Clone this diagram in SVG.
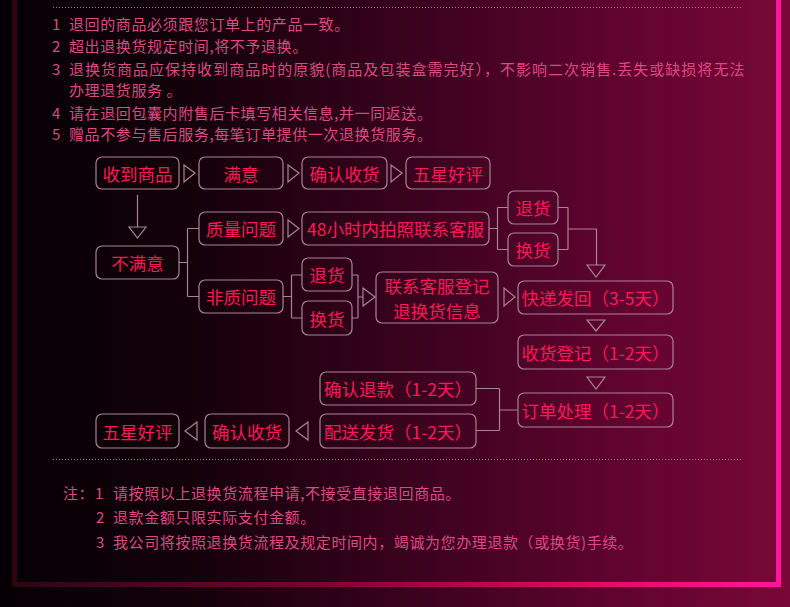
<svg xmlns="http://www.w3.org/2000/svg" width="790" height="607" viewBox="0 0 790 607">
<defs>
<linearGradient id="bg" x1="0" y1="0" x2="1" y2="0">
<stop offset="0" stop-color="#050003"/>
<stop offset="0.25" stop-color="#14010a"/>
<stop offset="0.55" stop-color="#3e0220"/>
<stop offset="0.8" stop-color="#620430"/>
<stop offset="1" stop-color="#780838"/>
</linearGradient>
<linearGradient id="fr" x1="14" y1="0" x2="779" y2="0" gradientUnits="userSpaceOnUse">
<stop offset="0" stop-color="#2e0412"/>
<stop offset="0.4" stop-color="#7a0530"/>
<stop offset="0.75" stop-color="#e00a60"/>
<stop offset="1" stop-color="#ff14a0"/>
</linearGradient>
<style>
.t{font-family:"Noto Sans CJK SC","Noto Sans",sans-serif;font-size:15px;fill:#dc4a82;letter-spacing:0.6px;dominant-baseline:central}
.b rect{fill:none;stroke:#a98494;stroke-width:1.2}
.b text{font-family:"Noto Sans CJK SC","Noto Sans",sans-serif;font-size:17.5px;fill:#ff1858;text-anchor:middle;dominant-baseline:central}
.c path,.c polygon{fill:none;stroke:#a98494;stroke-width:1.2}
.dot{stroke:#a08090;stroke-width:1;stroke-dasharray:1 2}
</style>
</defs>
<rect width="790" height="607" fill="url(#bg)"/>
<rect x="14.5" y="-10" width="764" height="594.5" fill="none" stroke="url(#fr)" stroke-width="5"/>
<line class="dot" x1="53" y1="7.5" x2="741" y2="7.5"/>
<line class="dot" x1="53" y1="459.5" x2="741" y2="459.5"/>

<g id="rules">
<text class="t" x="52" y="23">1</text><text class="t" x="69" y="23">退回的商品必须跟您订单上的产品一致。</text>
<text class="t" x="52" y="45">2</text><text class="t" x="69" y="45">超出退换货规定时间,将不予退换。</text>
<text class="t" x="52" y="68">3</text><text class="t" x="69" y="68" textLength="676" lengthAdjust="spacing">退换货商品应保持收到商品时的原貌(商品及包装盒需完好），不影响二次销售.丢失或缺损将无法</text>
<text class="t" x="69" y="89">办理退货服务 。</text>
<text class="t" x="52" y="112">4</text><text class="t" x="69" y="112">请在退回包囊内附售后卡填写相关信息,并一同返送。</text>
<text class="t" x="52" y="133">5</text><text class="t" x="69" y="133">赠品不参与售后服务,每笔订单提供一次退换货服务。</text>
</g>

<g id="notes">
<text class="t" x="63" y="492">注：</text><text class="t" x="95" y="492">1</text><text class="t" x="113" y="492">请按照以上退换货流程申请,不接受直接退回商品。</text>
<text class="t" x="96" y="516">2</text><text class="t" x="113" y="516">退款金额只限实际支付金额。</text>
<text class="t" x="96" y="541">3</text><text class="t" x="113" y="541">我公司将按照退换货流程及规定时间内，竭诚为您办理退款（或换货)手续。</text>
</g>

<g id="connectors" class="c">
<path d="M137.5 195V227M179 262.5H187.5M187.5 228.5V296.5M187.5 228.5H199M187.5 296.5H199"/>
<path d="M489 228.5H497.5M497.5 207.5V249.5M497.5 207.5H508M497.5 249.5H508"/>
<path d="M558 207.5H568M558 249.5H568M568 207.5V249.5M568 229H596.5V265"/>
<path d="M283 296.5H291.5M291.5 275V318M291.5 275H302M291.5 318H302"/>
<path d="M352 275H358M352 318H358M358 275V318M358 297H363"/>
<path d="M518 410H499.5M499.5 388.5V430.5M499.5 388.5H476M499.5 430.5H476"/>
<polygon points="184,165 195,173 184,182"/>
<polygon points="288,165 299,173 288,182"/>
<polygon points="391,165 402,173 391,182"/>
<polygon points="288,220 299,228.5 288,237"/>
<polygon points="363,288 375,297 363,306"/>
<polygon points="504,288 515,297 504,306"/>
<polygon points="129,227 146,227 137.5,238"/>
<polygon points="587,265 605,265 596,277"/>
<polygon points="587,320 605,320 596,331"/>
<polygon points="587,377 605,377 596,389"/>
<polygon points="308,422 296,431 308,440"/>
<polygon points="197,422 185,431 197,440"/>
</g>

<g id="n1" class="b"><rect x="96" y="157" width="83" height="32" rx="6"/><text x="137.5" y="173">收到商品</text></g>
<g id="n2" class="b"><rect x="199" y="157" width="84" height="32" rx="6"/><text x="241" y="173">满意</text></g>
<g id="n3" class="b"><rect x="302" y="157" width="85" height="32" rx="6"/><text x="344.5" y="173">确认收货</text></g>
<g id="n4" class="b"><rect x="406" y="157" width="84" height="32" rx="6"/><text x="448" y="173">五星好评</text></g>
<g id="n5" class="b"><rect x="96" y="246" width="83" height="33" rx="6"/><text x="137.5" y="262.5">不满意</text></g>
<g id="n6" class="b"><rect x="199" y="212" width="84" height="33" rx="6"/><text x="241" y="228.5">质量问题</text></g>
<g id="n7" class="b"><rect x="302" y="212" width="187" height="33" rx="6"/><text x="395.5" y="228.5">48小时内拍照联系客服</text></g>
<g id="n8" class="b"><rect x="508" y="191" width="50" height="33" rx="6"/><text x="533" y="207.5">退货</text></g>
<g id="n9" class="b"><rect x="508" y="233" width="50" height="33" rx="6"/><text x="533" y="249.5">换货</text></g>
<g id="n10" class="b"><rect x="199" y="280" width="84" height="33" rx="6"/><text x="241" y="296.5">非质问题</text></g>
<g id="n11" class="b"><rect x="302" y="258" width="50" height="33" rx="6"/><text x="327" y="274.5">退货</text></g>
<g id="n12" class="b"><rect x="302" y="301" width="50" height="34" rx="6"/><text x="327" y="318">换货</text></g>
<g id="n13" class="b"><rect x="376" y="272" width="122" height="51" rx="6"/><text x="437" y="285.5">联系客服登记</text><text x="437" y="310.5">退换货信息</text></g>
<g id="n14" class="b"><rect x="518" y="281" width="155" height="33" rx="6"/><text x="595.5" y="297.5">快递发回（3-5天）</text></g>
<g id="n15" class="b"><rect x="518" y="335" width="155" height="34" rx="6"/><text x="595.5" y="352">收货登记（1-2天）</text></g>
<g id="n16" class="b"><rect x="518" y="393" width="155" height="34" rx="6"/><text x="595.5" y="410">订单处理（1-2天）</text></g>
<g id="n17" class="b"><rect x="320" y="372" width="156" height="33" rx="6"/><text x="398" y="388.5">确认退款（1-2天）</text></g>
<g id="n18" class="b"><rect x="320" y="414" width="156" height="34" rx="6"/><text x="398" y="431">配送发货（1-2天）</text></g>
<g id="n19" class="b"><rect x="205" y="414" width="84" height="34" rx="6"/><text x="247" y="431">确认收货</text></g>
<g id="n20" class="b"><rect x="96" y="414" width="83" height="34" rx="6"/><text x="137.5" y="431">五星好评</text></g>
</svg>
